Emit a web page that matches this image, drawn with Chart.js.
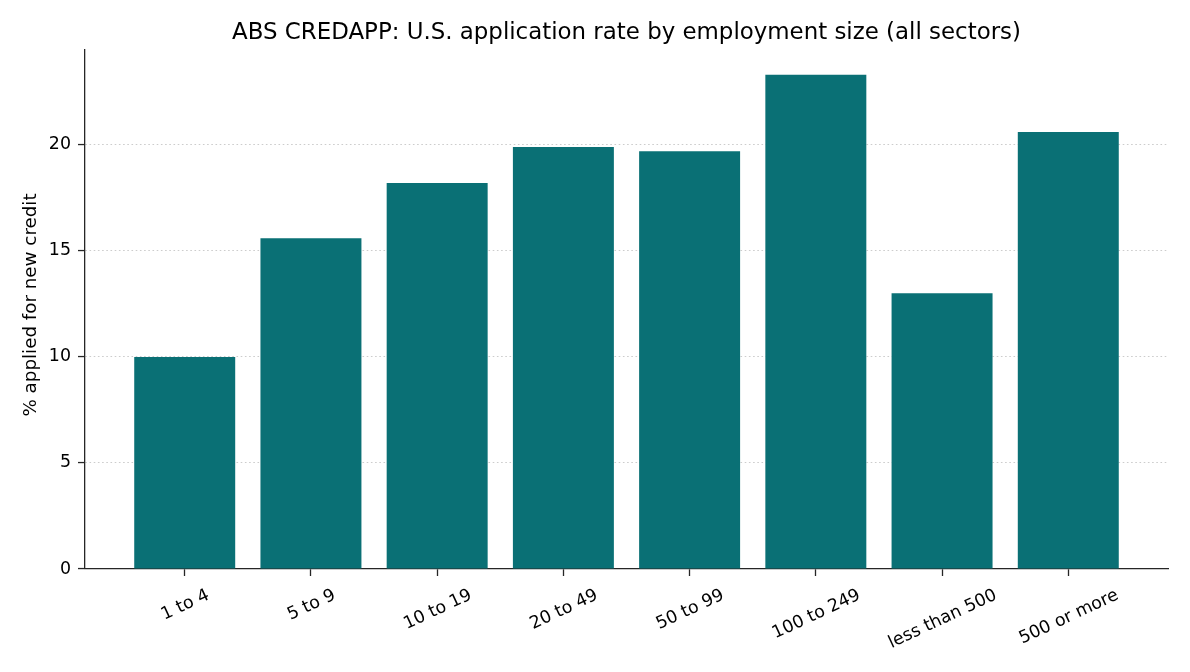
<!DOCTYPE html>
<html><head><meta charset="utf-8">
<script src="https://cdn.jsdelivr.net/npm/chart.js@4.4.1/dist/chart.umd.min.js"></script>
<style>html,body{margin:0;padding:0;background:#fff;} canvas{display:block;}</style>
</head><body>
<canvas id="c" width="1190" height="672"></canvas>
<script>
const categories = ["1 to 4","5 to 9","10 to 19","20 to 49","50 to 99","100 to 249","less than 500","500 or more"];
const applicationRate = [10.0, 15.6, 18.2, 19.9, 19.7, 23.3, 13.0, 20.6];
const yTicks = [0, 5, 10, 15, 20];
const titleText = "ABS CREDAPP: U.S. application rate by employment size (all sectors)";
const yAxisLabel = "% applied for new credit";

const FONT = "'DejaVu Sans', sans-serif";
const barColor = '#0a7075';
const axisColor = '#262626';

const textPlugin = {
  id: 'mplText',
  afterDraw(chart) {
    const ctx = chart.ctx, area = chart.chartArea, xs = chart.scales.x;
    ctx.save();
    ctx.fillStyle = '#000';
    ctx.font = `22.9px ${FONT}`;
    ctx.textAlign = 'center';
    ctx.textBaseline = 'alphabetic';
    ctx.fillText(titleText, (area.left + area.right) / 2, 39);

    ctx.save();
    ctx.translate(31, 305);
    ctx.rotate(-Math.PI / 2);
    ctx.font = `18.3px ${FONT}`;
    ctx.textAlign = 'center';
    ctx.textBaseline = 'middle';
    ctx.fillText(yAxisLabel, 0, 0);
    ctx.restore();

    ctx.font = `17.4px ${FONT}`;
    const ang = 25 * Math.PI / 180;
    categories.forEach((lab, i) => {
      const m = ctx.measureText(lab);
      const asc = m.fontBoundingBoxAscent || 16, desc = m.fontBoundingBoxDescent || 4;
      const w = m.width, h = asc + desc;
      const H = w * Math.sin(ang) + h * Math.cos(ang);
      const cx = xs.getPixelForValue(i);
      const cy = area.bottom + 15 + H / 2;
      ctx.save();
      ctx.translate(cx, cy);
      ctx.rotate(-ang);
      ctx.textAlign = 'center';
      ctx.textBaseline = 'alphabetic';
      ctx.fillText(lab, 0, (asc - desc) / 2);
      ctx.restore();
    });
    ctx.restore();
  }
};

new Chart(document.getElementById('c'), {
  type: 'bar',
  data: {
    datasets: [{
      data: categories.map((c, i) => ({ x: i, y: applicationRate[i] })),
      backgroundColor: barColor,
      borderWidth: 0,
      inflateAmount: 0,
      barPercentage: 0.8,
      categoryPercentage: 1.0
    }]
  },
  options: {
    responsive: false,
    animation: false,
    devicePixelRatio: 1,
    layout: { padding: { top: 50, right: 22, bottom: 0, left: 0 } },
    plugins: { legend: { display: false }, title: { display: false }, tooltip: { enabled: false } },
    scales: {
      x: {
        type: 'linear', min: -0.79, max: 7.79, offset: false,
        afterBuildTicks: s => { s.ticks = categories.map((c, i) => ({ value: i })); },
        ticks: { display: false },
        grid: { offset: false, drawOnChartArea: false, drawTicks: true, tickLength: 7, tickColor: axisColor, tickWidth: 1.3 },
        border: { display: true, color: axisColor, width: 1.3 },
        afterFit: s => { s.height = 103; }
      },
      y: {
        min: 0, max: 24.47,
        afterBuildTicks: s => { s.ticks = yTicks.map(v => ({ value: v })); },
        ticks: { font: { family: FONT, size: 17.4 }, color: '#000', padding: 7 },
        grid: { color: '#cccccc', lineWidth: 1.1, tickLength: 7, tickColor: axisColor, tickWidth: 1.3, tickBorderDash: [] },
        border: { display: true, color: axisColor, width: 1.3, dash: [1.6, 2.6] },
        afterFit: s => { s.width = 85; }
      }
    }
  },
  plugins: [textPlugin]
});
</script>
</body></html>
